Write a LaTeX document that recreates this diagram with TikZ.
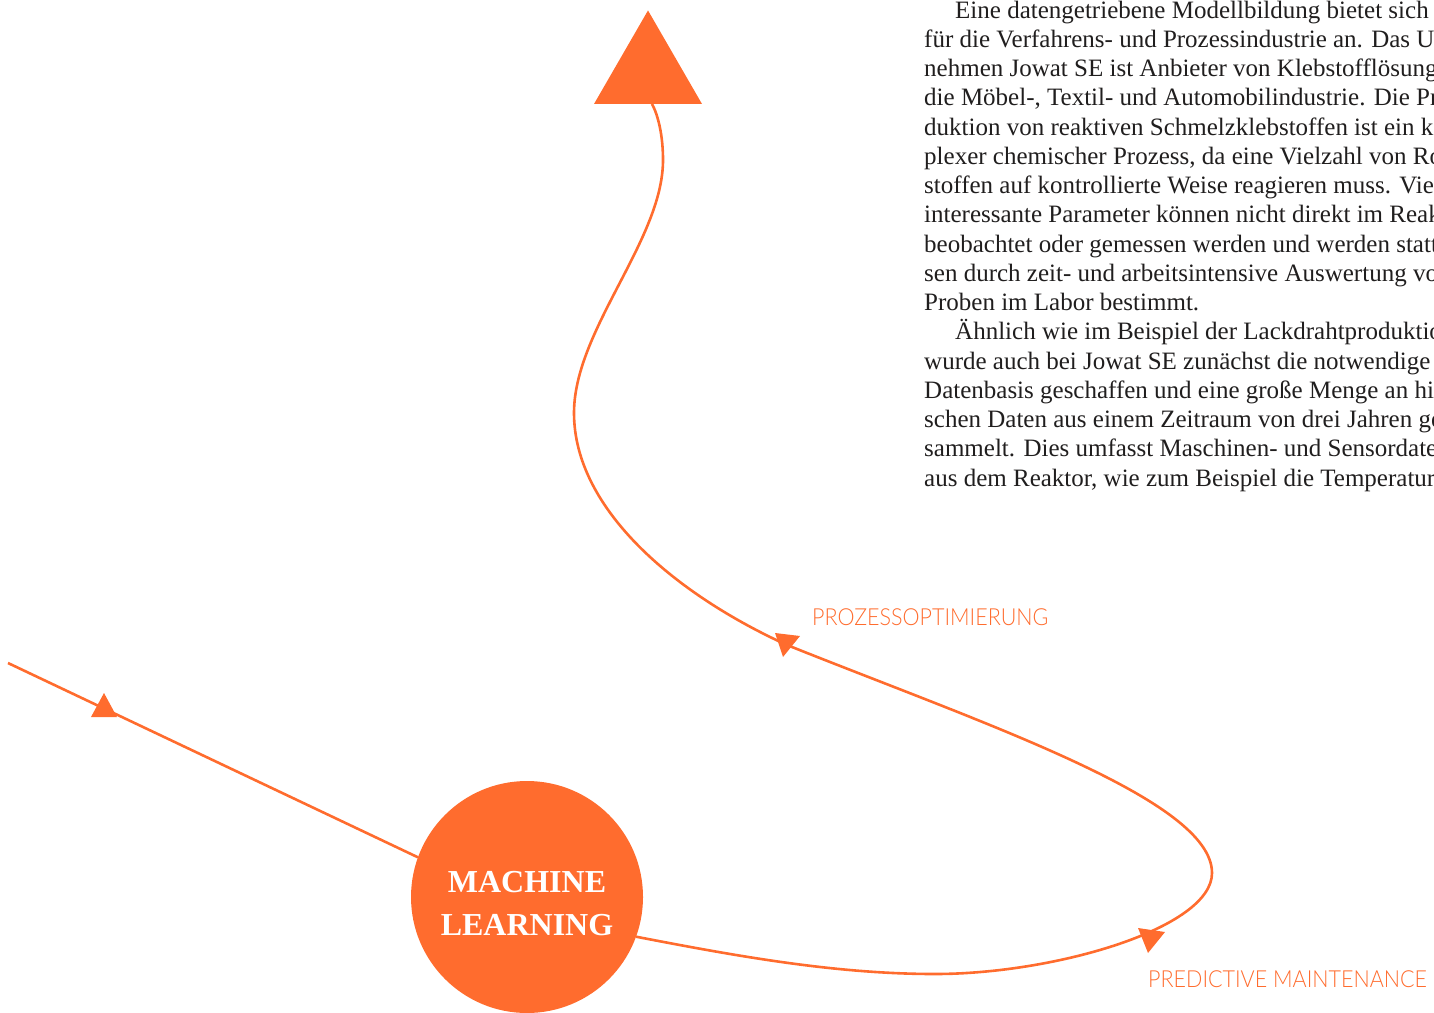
\documentclass[tikz,border=0pt]{standalone}
\usepackage{fontspec}
\setmainfont{Liberation Serif}
\newfontfamily\labelfont{Lato Light}[FakeStretch=0.915]
\usetikzlibrary{shapes.geometric}
\definecolor{accent}{RGB}{255,108,46}
\definecolor{bodyink}{RGB}{32,30,30}

\begin{document}
\begin{tikzpicture}[x=1pt,y=-1pt,
  flow/.style={draw=accent, line width=2.6pt},
  bodyline/.style={anchor=base west, inner sep=0pt, text=bodyink,
    font=\fontsize{25}{29}\selectfont},
  tag/.style={anchor=base west, inner sep=0pt, text=accent,
    font=\labelfont\fontsize{23.5}{28}\selectfont},
  hub/.style={circle, fill=accent, minimum size=232pt, inner sep=0pt, outer sep=0pt},
  hubtext/.style={text=white, align=center, inner sep=0pt,
    font=\bfseries\fontsize{32}{43}\selectfont},
  goal/.style={regular polygon, regular polygon sides=3, fill=accent,
    minimum size=124.7pt, inner sep=0pt, outer sep=0pt}
]
\useasboundingbox (0,0) rectangle (1434,1012);
\clip (0,0) rectangle (1434,1012);

% column of running text
\node[bodyline] (t1)  at (955,18)    {Eine datengetriebene Modellbildung bietet sich};
\node[bodyline] (t2)  at (924,47.25) {für die Verfahrens- und Prozessindustrie an. Das Unter-};
\node[bodyline] (t3)  at (924,76.5)  {nehmen Jowat SE ist Anbieter von Klebstofflösungen für};
\node[bodyline] (t4)  at (924,105.75){die Möbel-, Textil- und Automobilindustrie. Die Pro-};
\node[bodyline] (t5)  at (924,135)   {duktion von reaktiven Schmelzklebstoffen ist ein kom-};
\node[bodyline] (t6)  at (924,164.25){plexer chemischer Prozess, da eine Vielzahl von Roh-};
\node[bodyline] (t7)  at (924,193.5) {stoffen auf kontrollierte Weise reagieren muss. Viele};
\node[bodyline] (t8)  at (924,222.75){interessante Parameter können nicht direkt im Reaktor};
\node[bodyline] (t9)  at (924,252)   {beobachtet oder gemessen werden und werden stattdes-};
\node[bodyline] (t10) at (924,281.25){sen durch zeit- und arbeitsintensive Auswertung von};
\node[bodyline] (t11) at (924,310.5) {Proben im Labor bestimmt.};
\node[bodyline] (t12) at (955,339.75){Ähnlich wie im Beispiel der Lackdrahtproduktion};
\node[bodyline] (t13) at (924,369)   {wurde auch bei Jowat SE zunächst die notwendige};
\node[bodyline] (t14) at (924,398.25){Datenbasis geschaffen und eine große Menge an histori-};
\node[bodyline] (t15) at (924,427.5) {schen Daten aus einem Zeitraum von drei Jahren ge-};
\node[bodyline] (t16) at (924,456.75){sammelt. Dies umfasst Maschinen- und Sensordaten};
\node[bodyline] (t17) at (924,486)   {aus dem Reaktor, wie zum Beispiel die Temperatur,};

% central hub and target
\node[hub] (ml) at (527,897) {};
\node[hubtext] (mltext) at (527,904) {MACHINE\\LEARNING};
\node[goal] (goal) at (648,72.8) {};

% incoming line
\coordinate (src) at (8,663);
\draw[flow] (src) -- (ml.160);
\fill[accent] (91,717) -- (104,693) -- (117,717) -- cycle;

% loop from the hub up to the target
\draw[flow] (ml.-20)
  .. controls (736,956) and (835,974) .. (935,974)
  .. controls (1055,974) and (1212,928) .. (1212,873)
  .. controls (1212,800) and (987,725) .. (787,645)
  .. controls (677,595) and (574,510) .. (574,413)
  .. controls (574,330) and (663,240) .. (663,160)
  .. controls (663,135) and (658,115) .. ([xshift=4pt]goal.south);
\fill[accent] (775,633) -- (800,636) -- (783,657) -- cycle;
\fill[accent] (1138,928) -- (1165,932) -- (1148,953) -- cycle;

% labels along the loop
\node[tag] (lopt) at (812,625) {PROZESSOPTIMIERUNG};
\node[tag] (lpm) at (1148,987) {PREDICTIVE MAINTENANCE};
\end{tikzpicture}
\end{document}
